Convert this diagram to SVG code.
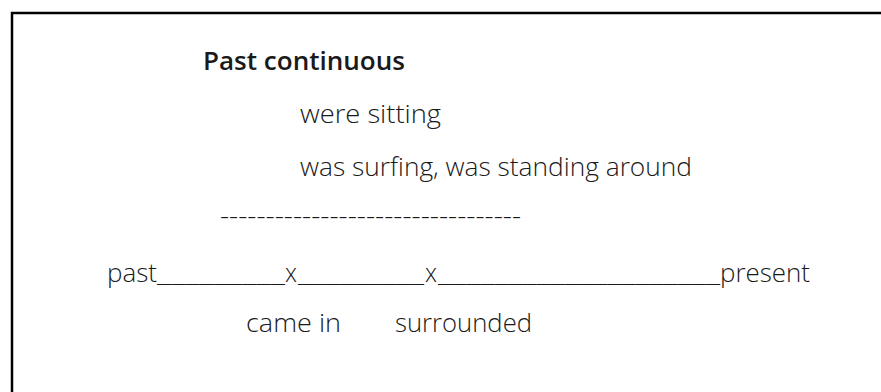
<svg xmlns="http://www.w3.org/2000/svg" width="881" height="392" viewBox="0 0 881 392">
<style>
.t{font-family:"Open Sans","Noto Sans","Liberation Sans",sans-serif;font-size:25px;font-weight:300;fill:#1a1a1a;}
.h{font-weight:600;}
</style>
<rect x="0" y="0" width="881" height="392" fill="#ffffff"/>
<rect id="frame" x="12" y="13" width="880" height="390" fill="none" stroke="#000" stroke-width="2.5"/>
<g id="title"><text class="t h" x="203" y="70" textLength="202" lengthAdjust="spacingAndGlyphs">Past continuous</text></g>
<g id="line1"><text class="t" x="300" y="123" textLength="141" lengthAdjust="spacingAndGlyphs">were sitting</text></g>
<g id="line2"><text class="t" x="300" y="176" textLength="392" lengthAdjust="spacingAndGlyphs">was surfing, was standing around</text></g>
<g id="dashes"><text class="t" x="220" y="225" textLength="301" lengthAdjust="spacingAndGlyphs">---------------------------------</text></g>
<g id="timeline">
<text class="t" y="282"><tspan x="107" textLength="50" lengthAdjust="spacingAndGlyphs">past</tspan><tspan x="157" textLength="128" lengthAdjust="spacingAndGlyphs">_________</tspan><tspan x="285" textLength="12" lengthAdjust="spacingAndGlyphs">x</tspan><tspan x="298" textLength="126" lengthAdjust="spacingAndGlyphs">_________</tspan><tspan x="425" textLength="12" lengthAdjust="spacingAndGlyphs">x</tspan><tspan x="438" textLength="282" lengthAdjust="spacingAndGlyphs">____________________</tspan><tspan x="720" textLength="90" lengthAdjust="spacingAndGlyphs">present</tspan></text>
</g>
<g id="labels">
<text class="t" x="246" y="332" textLength="95" lengthAdjust="spacingAndGlyphs">came in</text>
<text class="t" x="395" y="332" textLength="137" lengthAdjust="spacingAndGlyphs">surrounded</text>
</g>
</svg>
